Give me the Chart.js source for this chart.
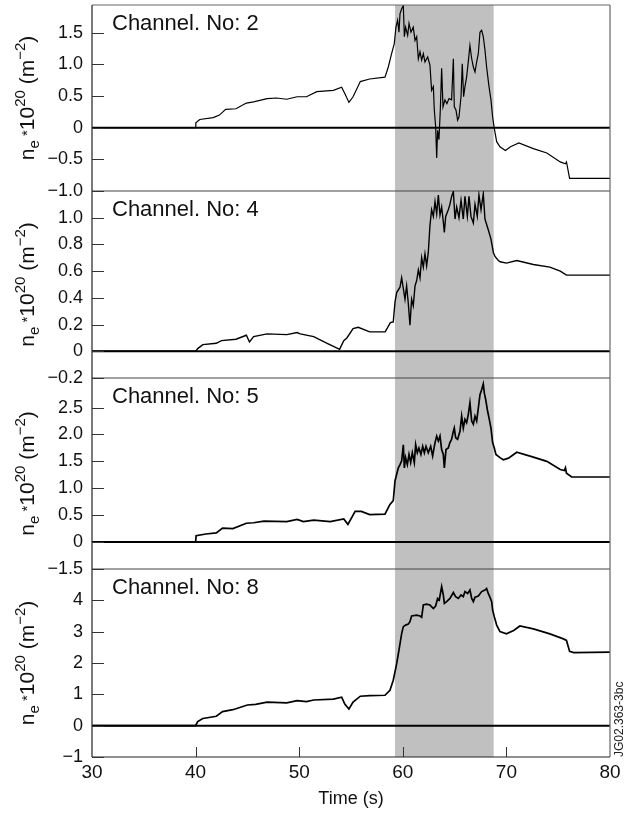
<!DOCTYPE html>
<html>
<head>
<meta charset="utf-8">
<script src="https://cdn.jsdelivr.net/npm/chart.js@4.4.1/dist/chart.umd.min.js"></script>
<style>
  html, body { margin: 0; padding: 0; background: #fff; }
  #wrap { position: relative; width: 632px; height: 814px; }
</style>
</head>
<body>
<div id="wrap"><canvas id="ne"></canvas></div>
<script>
// Line-integrated density, four interferometer channels, shared time base

const timeTicks = [30, 40, 50, 60, 70, 80];
const shadeFrom = 59.25, shadeTo = 68.77;   // heating window (s)

// ── Channel 2 ──────────────────────────────────────────────
const ch2Time = [30, 40.0, 40.02, 40.4, 41.7, 42.3, 42.9, 43.9, 44.9, 45.6, 46.9, 47.8, 48.8, 49.8, 50.7, 51.7,
  53.3, 54.1, 54.4, 54.8, 55.2, 55.9, 56.8, 58.28, 58.6, 58.92, 59.18, 59.34, 59.5, 59.63, 59.73, 59.89,
  60.05, 60.15, 60.27, 60.47, 60.6, 60.79, 61.01, 61.18, 61.34, 61.5, 61.66, 61.82, 61.98, 62.14, 62.4,
  62.62, 62.78, 62.95, 63.04, 63.17, 63.27, 63.36, 63.49, 63.62, 63.75, 63.88, 64.07, 64.26, 64.46, 64.71,
  64.88, 64.97, 65.13, 65.29, 65.42, 65.62, 65.74, 65.87, 66.0, 66.16, 66.32, 66.48, 66.65, 66.81, 66.97,
  67.13, 67.29, 67.45, 67.61, 67.77, 67.93, 68.09, 68.32, 68.51, 68.67, 68.83, 69.06, 69.38, 69.9, 70.4,
  71.2, 72.6, 73.9, 75.2, 75.7, 75.8, 76.1, 80];
const ch2Ne = [0, 0, 0.08, 0.13, 0.16, 0.20, 0.29, 0.30, 0.39, 0.41, 0.46, 0.47, 0.45, 0.49, 0.49, 0.57,
  0.59, 0.64, 0.54, 0.40, 0.49, 0.73, 0.77, 0.80, 0.96, 1.17, 1.33, 1.59, 1.70, 1.51, 1.80, 1.88,
  1.93, 1.44, 1.59, 1.46, 1.65, 1.51, 1.59, 1.38, 1.44, 1.09, 1.20, 1.07, 1.17, 1.04, 1.12,
  0.99, 0.59, 0.65, 0.28, 0.02, -0.48, -0.04, -0.19, 0.28, 0.94, 0.33, 0.44, 0.38, 0.46, 0.44,
  1.09, 0.33, 0.28, 0.12, 0.17, 0.49, 1.01, 0.49, 0.65, 0.80, 1.04, 1.30, 1.09, 0.96, 0.88,
  1.04, 1.17, 1.51, 1.54, 1.44, 1.23, 0.96, 0.65, 0.44, 0.17, -0.01, -0.22, -0.30, -0.36, -0.30,
  -0.24, -0.33, -0.40, -0.54, -0.57, -0.54, -0.80, -0.80];

// ── Channel 4 ──────────────────────────────────────────────
const ch4Time = [30, 40.0, 40.2, 40.7, 42.0, 42.5, 43.9, 44.9, 45.2, 45.6, 46.9, 48.8, 49.8, 50.1, 51.4, 52.7,
  53.9, 54.3, 54.6, 55.2, 55.7, 56.8, 58.3, 58.8, 59.08, 59.25, 59.41, 59.73, 59.89, 60.05, 60.21, 60.37,
  60.53, 60.69, 60.85, 61.01, 61.18, 61.34, 61.5, 61.66, 61.82, 61.98, 62.14, 62.3, 62.46, 62.62, 62.78,
  62.95, 63.11, 63.27, 63.43, 63.59, 63.75, 63.91, 64.01, 64.14, 64.39, 64.55, 64.71, 64.88, 65.04, 65.2,
  65.42, 65.62, 65.84, 66.0, 66.23, 66.39, 66.58, 66.81, 66.97, 67.19, 67.35, 67.55, 67.77, 67.93, 68.25,
  68.51, 68.74, 68.9, 69.22, 69.4, 70.0, 71.0, 72.6, 74.2, 75.2, 75.8, 80];
const ch4Ne = [0, 0, 0.02, 0.05, 0.06, 0.08, 0.09, 0.12, 0.07, 0.11, 0.13, 0.125, 0.14, 0.13, 0.11, 0.06,
  0.015, 0.08, 0.10, 0.17, 0.18, 0.145, 0.145, 0.215, 0.22, 0.37, 0.44, 0.48, 0.55, 0.47, 0.39, 0.49,
  0.36, 0.195, 0.39, 0.34, 0.49, 0.53, 0.61, 0.55, 0.70, 0.63, 0.73, 0.64, 0.74, 0.94, 1.06,
  1.01, 1.12, 1.03, 1.17, 1.02, 1.08, 0.97, 0.89, 1.01, 1.06, 1.10, 1.16, 1.195, 0.99, 1.08,
  1.00, 1.13, 0.99, 1.16, 1.01, 1.16, 1.01, 0.96, 1.10, 1.01, 1.17, 1.06, 1.18, 0.99, 0.91,
  0.84, 0.74, 0.71, 0.68, 0.67, 0.66, 0.68, 0.65, 0.63, 0.60, 0.57, 0.57];

// ── Channel 5 ──────────────────────────────────────────────
const ch5Time = [30, 40.0, 40.05, 41.0, 42.0, 42.6, 43.6, 44.9, 45.6, 46.6, 48.8, 49.8, 50.4, 51.4, 53.0, 54.3,
  54.7, 55.4, 56.0, 56.8, 58.28, 58.76, 59.08, 59.25, 59.41, 59.57, 59.73, 59.89, 60.05, 60.15, 60.27,
  60.44, 60.6, 60.76, 60.92, 61.11, 61.24, 61.4, 61.56, 61.75, 61.92, 62.08, 62.24, 62.46, 62.69, 62.88,
  63.11, 63.27, 63.43, 63.59, 63.75, 63.91, 64.01, 64.17, 64.39, 64.55, 64.71, 64.88, 64.97, 65.1, 65.29,
  65.52, 65.68, 65.84, 66.0, 66.16, 66.32, 66.48, 66.65, 66.81, 66.97, 67.13, 67.29, 67.45, 67.61, 67.77,
  67.87, 68.0, 68.16, 68.32, 68.51, 68.67, 68.83, 68.99, 69.38, 69.7, 70.2, 71.0, 72.6, 73.9, 75.2, 75.6,
  75.7, 75.8, 76.3, 80];
const ch5Ne = [0, 0, 0.12, 0.15, 0.17, 0.26, 0.25, 0.35, 0.36, 0.39, 0.38, 0.42, 0.38, 0.41, 0.38, 0.43,
  0.33, 0.57, 0.57, 0.51, 0.52, 0.70, 0.77, 1.14, 1.26, 1.38, 1.44, 1.51, 1.81, 1.38, 1.57,
  1.44, 1.63, 1.48, 1.66, 1.48, 1.81, 1.66, 1.75, 1.63, 1.78, 1.66, 1.78, 1.66, 1.78, 1.60,
  1.85, 1.97, 1.88, 1.97, 1.72, 1.63, 1.38, 1.72, 1.75, 1.85, 1.91, 2.06, 2.12, 1.94, 1.91,
  2.06, 2.34, 2.12, 2.28, 2.22, 2.37, 2.59, 2.25, 2.19, 2.34, 2.25, 2.49, 2.74, 2.83, 2.94,
  2.77, 2.65, 2.46, 2.31, 2.12, 1.85, 1.75, 1.63, 1.57, 1.53, 1.56, 1.67, 1.58, 1.50, 1.35, 1.33,
  1.38, 1.28, 1.21, 1.21];

// ── Channel 8 ──────────────────────────────────────────────
const ch8Time = [30, 40.0, 40.2, 40.7, 42.0, 42.6, 43.6, 45.0, 45.8, 46.9, 48.8, 49.8, 50.7, 51.4, 53.3, 54.1,
  54.4, 54.8, 55.2, 55.9, 56.8, 58.28, 58.76, 59.08, 59.41, 59.63, 59.89, 60.05, 60.27, 60.53, 60.69,
  60.85, 61.34, 61.66, 61.82, 61.98, 62.3, 62.62, 62.95, 63.17, 63.36, 63.52, 63.75, 63.91, 64.01, 64.23,
  64.55, 64.88, 65.1, 65.36, 65.62, 65.84, 66.0, 66.26, 66.48, 66.65, 66.81, 66.97, 67.29, 67.61, 67.93,
  68.09, 68.25, 68.41, 68.58, 68.67, 68.83, 69.06, 69.38, 70.0, 70.7, 71.3, 72.6, 74.2, 75.5, 75.8, 76.1,
  76.5, 80];
const ch8Ne = [0, 0, 0.13, 0.23, 0.30, 0.45, 0.51, 0.66, 0.68, 0.75, 0.73, 0.80, 0.77, 0.82, 0.85, 0.91,
  0.69, 0.53, 0.75, 0.94, 0.96, 0.97, 1.13, 1.45, 1.98, 2.41, 2.94, 3.16, 3.21, 3.24, 3.32,
  3.50, 3.53, 3.50, 3.46, 3.85, 3.88, 3.85, 3.74, 3.82, 4.06, 4.01, 4.44, 4.17, 3.90, 3.96,
  4.06, 4.25, 4.12, 4.06, 4.17, 4.12, 4.28, 4.22, 4.33, 4.06, 3.96, 4.10, 4.14, 4.28, 4.33,
  4.38, 4.22, 4.10, 3.96, 3.69, 3.48, 3.21, 3.00, 2.93, 3.04, 3.18, 3.09, 2.93, 2.77, 2.72, 2.37,
  2.33, 2.35];

// ── Per-panel axis ticks ───────────────────────────────────
const ch2TickVals = [-1, -0.5, 0, 0.5, 1, 1.5];
const ch2TickText = ['\u22121.0', '\u22120.5', '0', '0.5', '1.0', '1.5'];
const ch4TickVals = [-0.2, 0, 0.2, 0.4, 0.6, 0.8, 1.0];
const ch4TickText = ['\u22120.2', '0', '0.2', '0.4', '0.6', '0.8', '1.0'];
const ch5TickVals = [-0.5, 0, 0.5, 1, 1.5, 2, 2.5];
const ch5TickText = ['\u22121.5', '0', '0.5', '1.0', '1.5', '2.0', '2.5'];
const ch8TickVals = [-1, 0, 1, 2, 3, 4];
const ch8TickText = ['\u22121', '0', '1', '2', '3', '4'];

const panels = [
  { id: 'y2', name: 'Channel. No: 2', t: ch2Time, v: ch2Ne, min: -1,   max: 1.94, ticks: ch2TickVals, text: ch2TickText, h: 186, w: 4, lw: 1.2 },
  { id: 'y4', name: 'Channel. No: 4', t: ch4Time, v: ch4Ne, min: -0.2, max: 1.2,  ticks: ch4TickVals, text: ch4TickText, h: 187, w: 3, lw: 1.4 },
  { id: 'y5', name: 'Channel. No: 5', t: ch5Time, v: ch5Ne, min: -0.5, max: 3.05, ticks: ch5TickVals, text: ch5TickText, h: 191, w: 2, lw: 1.7 },
  { id: 'y8', name: 'Channel. No: 8', t: ch8Time, v: ch8Ne, min: -1,   max: 5,    ticks: ch8TickVals, text: ch8TickText, h: 188, w: 1, lw: 1.7 }
];

const FONT = '"Liberation Sans", Arial, Helvetica, sans-serif';

function hline(ctx, x0, x1, y) { ctx.beginPath(); ctx.moveTo(x0, y); ctx.lineTo(x1, y); ctx.stroke(); }
function vline(ctx, x, y0, y1) { ctx.beginPath(); ctx.moveTo(x, y0); ctx.lineTo(x, y1); ctx.stroke(); }

// y-axis title with sub/superscripts, drawn rotated
function drawNeTitle(ctx, cx, cy) {
  const parts = [
    { s: 'n', f: 21, dy: 0 },
    { s: 'e', f: 15, dy: 5 },
    { s: ' *', f: 15, dy: -2 },
    { s: '10', f: 21, dy: 0 },
    { s: '20', f: 15, dy: -9 },
    { s: ' (m', f: 21, dy: 0 },
    { s: '\u22122', f: 15, dy: -9 },
    { s: ')', f: 21, dy: 0 }
  ];
  ctx.save();
  ctx.translate(cx, cy);
  ctx.rotate(-Math.PI / 2);
  ctx.fillStyle = '#111';
  ctx.textBaseline = 'alphabetic';
  ctx.textAlign = 'left';
  let total = 0;
  parts.forEach(p => { ctx.font = p.f + 'px ' + FONT; p.w = ctx.measureText(p.s).width; total += p.w; });
  let x = -total / 2;
  parts.forEach(p => { ctx.font = p.f + 'px ' + FONT; ctx.fillText(p.s, x, p.dy); x += p.w; });
  ctx.restore();
}

const decor = {
  id: 'decor',
  beforeDatasetsDraw(chart) {
    const { ctx, chartArea: a, scales } = chart;
    const xs = scales.x;
    ctx.save();
    // heating window
    const x0 = xs.getPixelForValue(shadeFrom), x1 = xs.getPixelForValue(shadeTo);
    ctx.fillStyle = '#c0c0c0';
    ctx.fillRect(x0, a.top, x1 - x0, a.bottom - a.top);
    // panel separators
    ctx.strokeStyle = '#444';
    ctx.lineWidth = 1.2;
    panels.slice(1).forEach(p => hline(ctx, a.left, a.right, scales[p.id].top));
    // zero lines
    ctx.strokeStyle = '#000';
    ctx.lineWidth = 2;
    panels.forEach(p => hline(ctx, a.left, a.right, scales[p.id].getPixelForValue(0)));
    ctx.restore();
  },
  afterDraw(chart) {
    const { ctx, chartArea: a, scales } = chart;
    const xs = scales.x;
    ctx.save();
    // frame
    ctx.strokeStyle = '#666';
    ctx.lineWidth = 1.2;
    hline(ctx, a.left, a.right, a.top);
    vline(ctx, a.right, a.top, a.bottom);
    ctx.strokeStyle = '#222';
    vline(ctx, a.left, a.top, a.bottom);
    hline(ctx, a.left, a.right, a.bottom);
    // inward tick marks
    ctx.strokeStyle = '#333';
    ctx.lineWidth = 1;
    panels.forEach(p => {
      const s = scales[p.id];
      p.ticks.forEach(v => hline(ctx, a.left, a.left + 12, Math.round(s.getPixelForValue(v)) + 0.5));
    });
    timeTicks.slice(1, -1).forEach(v => vline(ctx, Math.round(xs.getPixelForValue(v)) + 0.5, a.bottom, a.bottom - 10));
    // channel names and axis titles
    ctx.fillStyle = '#111';
    ctx.font = '22px ' + FONT;
    ctx.textAlign = 'left';
    ctx.textBaseline = 'alphabetic';
    panels.forEach(p => {
      const s = scales[p.id];
      ctx.fillText(p.name, 112, s.top + 25);
      drawNeTitle(ctx, 34, (s.top + s.bottom) / 2);
    });
    // figure tag
    ctx.translate(623, a.bottom);
    ctx.rotate(-Math.PI / 2);
    ctx.font = '12px ' + FONT;
    ctx.fillStyle = '#222';
    ctx.fillText('JG02.363-3bc', 0, 0);
    ctx.restore();
  }
};

const scales = {
  x: {
    type: 'linear', position: 'bottom', min: 30, max: 80,
    grid: { display: false, drawTicks: false },
    border: { display: false },
    afterBuildTicks: s => { s.ticks = timeTicks.map(v => ({ value: v })); },
    afterFit: s => { s.height = 57; s.paddingLeft = 0; s.paddingRight = 0; },
    ticks: { color: '#111', font: { family: FONT, size: 19 }, padding: 4, maxRotation: 0, autoSkip: false },
    title: { display: true, text: 'Time (s)', color: '#111', font: { family: FONT, size: 18 }, padding: { top: 0, bottom: 4 } }
  }
};
panels.forEach(p => {
  scales[p.id] = {
    type: 'linear', position: 'left', stack: 'ne', stackWeight: p.h, weight: p.w,
    min: p.min, max: p.max,
    grid: { display: false, drawTicks: false },
    border: { display: false },
    afterBuildTicks: s => { s.ticks = p.ticks.map(v => ({ value: v })); },
    afterFit: s => { s.width = 92; s.paddingTop = 0; s.paddingBottom = 0; },
    ticks: {
      color: '#111', font: { family: FONT, size: 18 }, padding: 9, autoSkip: false,
      callback: v => { const i = p.ticks.indexOf(v); return i < 0 ? '' : p.text[i]; }
    }
  };
});

new Chart(document.getElementById('ne'), {
  type: 'line',
  data: {
    datasets: panels.map(p => ({
      label: p.name,
      yAxisID: p.id,
      data: p.t.map((t, i) => ({ x: t, y: p.v[i] })),
      borderColor: '#000',
      borderWidth: p.lw,
      pointRadius: 0,
      tension: 0,
      fill: false
    }))
  },
  options: {
    responsive: true, maintainAspectRatio: false,
    animation: false,
    layout: { padding: { top: 5, right: 22, left: 0, bottom: 0 } },
    scales,
    plugins: { legend: { display: false }, tooltip: { enabled: false } }
  },
  plugins: [decor]
});
</script>
</body>
</html>
